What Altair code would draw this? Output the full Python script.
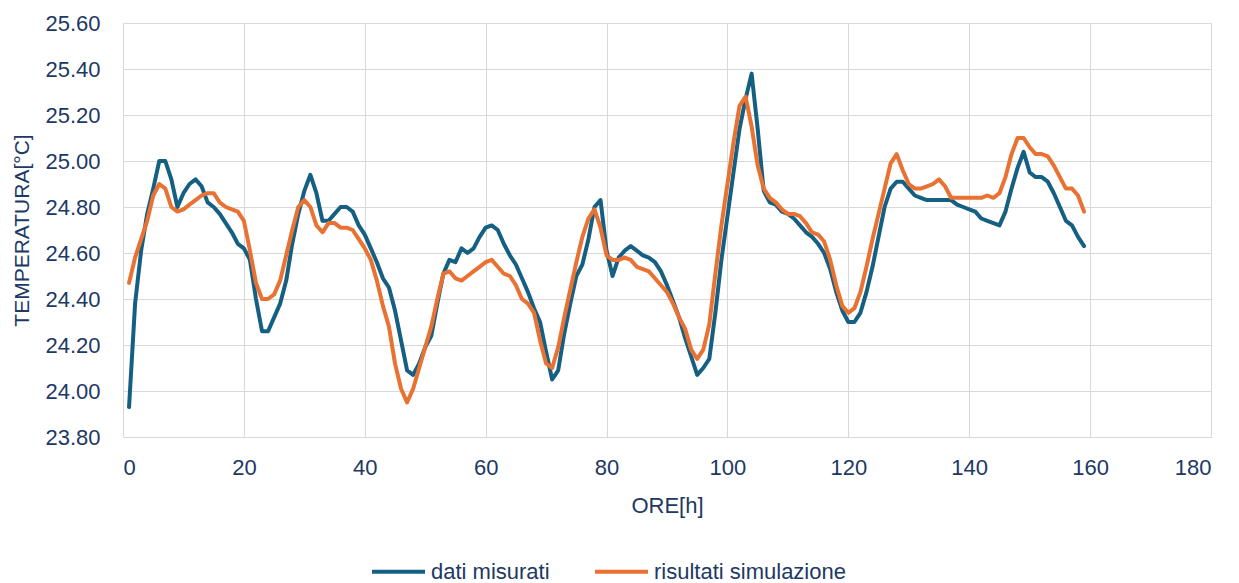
import altair as alt
import pandas as pd

hours = list(range(1, 160))

dati_misurati = [
    23.93, 24.38, 24.61, 24.77, 24.88, 25.00, 25.00, 24.92, 24.80, 24.86,
    24.90, 24.92, 24.89, 24.82, 24.80, 24.77, 24.73, 24.69, 24.64, 24.62,
    24.57, 24.40, 24.26, 24.26, 24.32, 24.38, 24.48, 24.64, 24.77, 24.87,
    24.94, 24.86, 24.74, 24.74, 24.77, 24.80, 24.80, 24.78, 24.72, 24.68,
    24.62, 24.56, 24.49, 24.45, 24.35, 24.22, 24.09, 24.07, 24.12, 24.19,
    24.24, 24.38, 24.51, 24.57, 24.56, 24.62, 24.60, 24.62, 24.67, 24.71,
    24.72, 24.70, 24.64, 24.59, 24.55, 24.49, 24.43, 24.36, 24.30, 24.17,
    24.05, 24.09, 24.25, 24.38, 24.50, 24.55, 24.66, 24.80, 24.83, 24.61,
    24.50, 24.58, 24.61, 24.63, 24.61, 24.59, 24.58, 24.56, 24.52, 24.46,
    24.39, 24.32, 24.23, 24.15, 24.07, 24.10, 24.14, 24.34, 24.57, 24.76,
    24.95, 25.14, 25.27, 25.38, 25.14, 24.87, 24.82, 24.81, 24.78, 24.77,
    24.75, 24.72, 24.69, 24.67, 24.64, 24.60, 24.53, 24.43, 24.35, 24.30,
    24.30, 24.34, 24.43, 24.54, 24.67, 24.80, 24.88, 24.91, 24.91, 24.88,
    24.85, 24.84, 24.83, 24.83, 24.83, 24.83, 24.83, 24.81, 24.80, 24.79,
    24.78, 24.75, 24.74, 24.73, 24.72, 24.78, 24.88, 24.97, 25.04, 24.95,
    24.93, 24.93, 24.91, 24.86, 24.80, 24.74, 24.72, 24.67, 24.63,
]

risultati_simulazione = [
    24.47, 24.58, 24.66, 24.74, 24.85, 24.90, 24.88, 24.80, 24.78, 24.79,
    24.81, 24.83, 24.85, 24.86, 24.86, 24.82, 24.80, 24.79, 24.78, 24.74,
    24.61, 24.47, 24.40, 24.40, 24.42, 24.48, 24.59, 24.70, 24.80, 24.83,
    24.80, 24.72, 24.69, 24.73, 24.73, 24.71, 24.71, 24.70, 24.66, 24.62,
    24.57, 24.48, 24.37, 24.28, 24.12, 24.01, 23.95, 24.01, 24.10, 24.19,
    24.28, 24.40, 24.51, 24.52, 24.49, 24.48, 24.50, 24.52, 24.54, 24.56,
    24.57, 24.54, 24.51, 24.50, 24.46, 24.40, 24.38, 24.34, 24.22, 24.12,
    24.10, 24.19, 24.32, 24.44, 24.56, 24.67, 24.75, 24.79, 24.71, 24.59,
    24.57, 24.57, 24.58, 24.57, 24.54, 24.53, 24.52, 24.49, 24.46, 24.43,
    24.38, 24.32, 24.27, 24.18, 24.14, 24.18, 24.29, 24.51, 24.72, 24.90,
    25.08, 25.24, 25.28, 25.15, 24.98, 24.88, 24.84, 24.82, 24.79, 24.77,
    24.77, 24.76, 24.73, 24.69, 24.68, 24.65, 24.57, 24.46, 24.37, 24.34,
    24.36, 24.43, 24.54, 24.66, 24.77, 24.88, 24.99, 25.03, 24.96, 24.90,
    24.88, 24.88, 24.89, 24.90, 24.92, 24.89, 24.84, 24.84, 24.84, 24.84,
    24.84, 24.84, 24.85, 24.84, 24.86, 24.93, 25.03, 25.10, 25.10, 25.06,
    25.03, 25.03, 25.02, 24.98, 24.93, 24.88, 24.88, 24.85, 24.78,
]

series_names = ["dati misurati", "risultati simulazione"]
series_colors = ["#156082", "#E97132"]
y_ticks = [23.8, 24.0, 24.2, 24.4, 24.6, 24.8, 25.0, 25.2, 25.4, 25.6]
x_ticks = [0, 20, 40, 60, 80, 100, 120, 140, 160, 180]

df = pd.concat([
    pd.DataFrame({"ore": hours, "temp": dati_misurati, "serie": series_names[0]}),
    pd.DataFrame({"ore": hours, "temp": risultati_simulazione, "serie": series_names[1]}),
])

TXT = "#203864"
FONT = "Liberation Sans"

chart = alt.Chart(df).mark_line(strokeWidth=4, strokeJoin="round", strokeCap="round").encode(
    x=alt.X("ore:Q",
            scale=alt.Scale(domain=[0, 180], nice=False, zero=False),
            axis=alt.Axis(values=x_ticks, title="ORE[h]", grid=True, ticks=False,
                          domain=True, domainColor="#d9d9d9", domainWidth=1,
                          labelPadding=20, titleY=68, titleBaseline="middle",
                          titleFontSize=22, labelFontSize=22)),
    y=alt.Y("temp:Q",
            scale=alt.Scale(domain=[23.8, 25.6], nice=False, zero=False),
            axis=alt.Axis(values=y_ticks, format=".2f", title="TEMPERATURA[°C]",
                          grid=True, ticks=False, domain=False, labelPadding=23,
                          titleX=-101, titleBaseline="middle",
                          titleFontSize=21, labelFontSize=22)),
    color=alt.Color("serie:N",
                    scale=alt.Scale(domain=series_names, range=series_colors),
                    legend=alt.Legend(title=None, orient="none", direction="horizontal",
                                      legendX=247, legendY=520,
                                      symbolType="stroke", symbolSize=2809,
                                      symbolStrokeWidth=4, labelFontSize=22,
                                      labelLimit=500, columnPadding=37,
                                      labelOffset=4, labelColor=TXT, labelFont=FONT)),
    order="ore:Q",
).properties(
    width=1088,
    height=414,
    autosize=alt.AutoSizeParams(type="none"),
    padding={"left": 115, "top": 15, "right": 20, "bottom": 160},
).configure_view(
    stroke=None
).configure_axis(
    gridColor="#d9d9d9",
    gridWidth=1,
    labelColor=TXT,
    titleColor=TXT,
    labelFont=FONT,
    titleFont=FONT,
    titleFontWeight="normal",
)

chart.save("out.html", embed_options={"renderer": "svg", "actions": False})
